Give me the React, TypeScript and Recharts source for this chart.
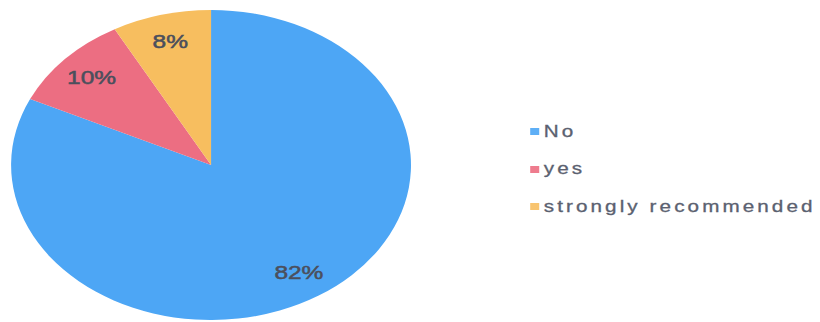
import React from 'react';
import { PieChart, Pie, Cell, Legend } from 'recharts';

const categories = ['No', 'yes', 'strongly recommended'];
const shares = [82, 10, 8];
const colors = ['#4da6f5', '#ec6e82', '#f7be5f'];

const data = categories.map((name, i) => ({ name, value: shares[i] }));

// the source picture is stretched sideways, so the whole chart is drawn narrow and scaled
const STRETCH = 1.29;
const RADIAN = Math.PI / 180;

const renderLabel = (props: any) => {
    const { cx, cy, midAngle, outerRadius, value } = props;
    const r = outerRadius * 0.82;
    const x = cx + r * Math.cos(-midAngle * RADIAN);
    const y = cy + r * Math.sin(-midAngle * RADIAN);
    return (
        <text
            x={x}
            y={y}
            fill="#4b4f5c"
            stroke="#4b4f5c"
            strokeWidth={0.5}
            fontSize={19}
            fontFamily="Liberation Sans, Arial, sans-serif"
            textAnchor="middle"
            dominantBaseline="central"
        >
            {`${value}%`}
        </text>
    );
};

const renderLegend = () => (
    <div>
        {categories.map((name, i) => (
            <div
                key={name}
                style={{ display: 'flex', alignItems: 'center', height: 37.5, whiteSpace: 'nowrap' }}
            >
                <span
                    style={{
                        width: 6.5,
                        height: 7,
                        background: colors[i],
                        marginRight: 4,
                        display: 'inline-block',
                        flexShrink: 0,
                        opacity: 0.9
                    }}
                />
                <span
                    style={{
                        fontFamily: 'Liberation Sans, Arial, sans-serif',
                        fontSize: 16,
                        letterSpacing: 2.4,
                        color: '#5b6170',
                        WebkitTextStroke: '0.3px #5b6170'
                    }}
                >
                    {name}
                </span>
            </div>
        ))}
    </div>
);

export default function App() {
    return (
        <div style={{ position: 'absolute', left: 0, top: 0, width: 820, height: 322, background: '#fff', overflow: 'hidden' }}>
            <div style={{ transform: `scaleX(${STRETCH})`, transformOrigin: '0 0', width: 636, height: 322 }}>
                <PieChart width={636} height={322} margin={{ top: 0, right: 0, bottom: 0, left: 0 }}>
                    <Pie
                        data={data}
                        dataKey="value"
                        nameKey="name"
                        cx={163.6}
                        cy={165}
                        outerRadius={155}
                        startAngle={90}
                        endAngle={-270}
                        stroke="none"
                        label={renderLabel}
                        labelLine={false}
                        isAnimationActive={false}
                    >
                        {data.map((entry, index) => (
                            <Cell key={`cell-${index}`} fill={colors[index]} />
                        ))}
                    </Pie>
                    <Legend
                        layout="vertical"
                        content={renderLegend}
                        wrapperStyle={{ position: 'absolute', left: 411, top: 113, width: 225 }}
                    />
                </PieChart>
            </div>
        </div>
    );
}
